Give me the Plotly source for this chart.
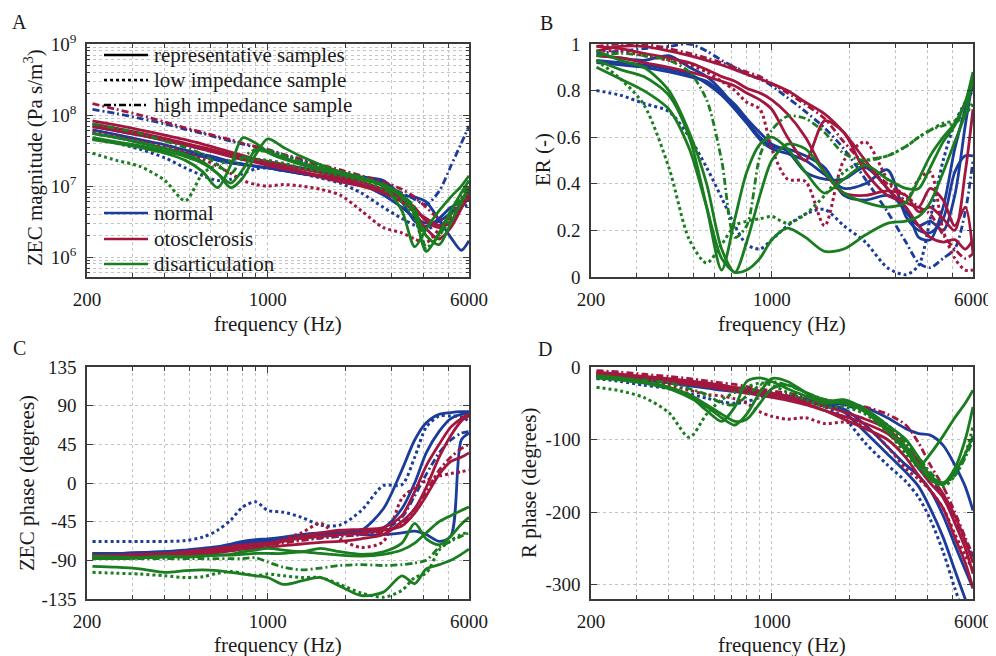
import math
import plotly.graph_objects as go

# the page adds an 8px body margin, so the figure is 8px smaller and positions are shifted
W, H = 996, 656
OFF = 8
FW, FH = W - OFF, H - OFF

# frequency points (Hz) shared by every curve
freq = [210, 260, 320, 400, 480, 560, 640, 720, 800, 900, 1000, 1150, 1350, 1600,
        1900, 2300, 2800, 3300, 3700, 4100, 4600, 5100, 5600, 6000]

# ---- A: ZEC magnitude (Pa s/m^3) ----
mag_normal_rep = [
    [5.5e7, 4.8e7, 4.1e7, 3.4e7, 2.9e7, 2.6e7, 2.3e7, 2.1e7, 2.0e7, 1.9e7, 1.8e7, 1.65e7, 1.5e7, 1.4e7, 1.25e7, 1.05e7, 7.5e6, 5.0e6, 3.6e6, 3.0e6, 3.2e6, 4.2e6, 5.5e6, 6.5e6],
    [6.2e7, 5.3e7, 4.5e7, 3.8e7, 3.2e7, 2.8e7, 2.5e7, 2.2e7, 2.05e7, 1.9e7, 1.8e7, 1.65e7, 1.5e7, 1.35e7, 1.3e7, 1.3e7, 1.1e7, 6.0e6, 3.2e6, 2.7e6, 3.5e6, 5.0e6, 6.0e6, 7.0e6],
    [7.0e7, 6.0e7, 5.2e7, 4.4e7, 3.8e7, 3.3e7, 3.0e7, 2.7e7, 2.5e7, 2.3e7, 2.2e7, 2.0e7, 1.8e7, 1.6e7, 1.45e7, 1.35e7, 1.2e7, 7.5e6, 7.0e6, 6.0e6, 3.3e6, 1.9e6, 1.25e6, 1.7e6],
]
mag_normal_low = [4.6e7, 4.0e7, 3.3e7, 2.5e7, 1.8e7, 1.4e7, 1.2e7, 1.25e7, 1.5e7, 1.75e7, 1.8e7, 1.7e7, 1.5e7, 1.3e7, 1.1e7, 8.0e6, 5.0e6, 3.5e6, 2.8e6, 2.5e6, 3.0e6, 4.0e6, 5.0e6, 5.5e6]
mag_normal_high = [1.2e8, 1.05e8, 9.0e7, 7.5e7, 6.3e7, 5.5e7, 4.8e7, 4.3e7, 3.9e7, 3.5e7, 3.2e7, 2.7e7, 2.3e7, 1.9e7, 1.6e7, 1.3e7, 1.05e7, 8.0e6, 6.5e6, 5.5e6, 8.5e6, 1.9e7, 4.0e7, 7.0e7]

mag_oto_rep = [
    [8.3e7, 7.2e7, 6.2e7, 5.2e7, 4.5e7, 3.9e7, 3.4e7, 3.0e7, 2.7e7, 2.4e7, 2.2e7, 2.0e7, 1.75e7, 1.55e7, 1.35e7, 1.15e7, 9.0e6, 7.0e6, 5.0e6, 3.2e6, 2.6e6, 3.2e6, 5.0e6, 7.0e6],
    [7.5e7, 6.5e7, 5.6e7, 4.7e7, 4.0e7, 3.5e7, 3.1e7, 2.8e7, 2.5e7, 2.25e7, 2.05e7, 1.85e7, 1.6e7, 1.4e7, 1.25e7, 1.05e7, 8.5e6, 6.3e6, 4.2e6, 2.5e6, 1.8e6, 2.6e6, 4.8e6, 8.0e6],
    [6.8e7, 6.0e7, 5.2e7, 4.4e7, 3.8e7, 3.3e7, 2.9e7, 2.6e7, 2.35e7, 2.15e7, 1.95e7, 1.75e7, 1.55e7, 1.35e7, 1.15e7, 1.0e7, 8.0e6, 6.0e6, 4.5e6, 3.5e6, 2.8e6, 3.0e6, 5.5e6, 9.0e6],
]
mag_oto_low = [5.8e7, 5.0e7, 4.3e7, 3.6e7, 3.0e7, 2.4e7, 1.9e7, 1.5e7, 1.2e7, 1.05e7, 1.0e7, 1.05e7, 1.0e7, 9.0e6, 7.5e6, 4.5e6, 2.6e6, 2.2e6, 1.8e6, 1.6e6, 2.5e6, 4.0e6, 6.5e6, 9.0e6]
mag_oto_high = [1.45e8, 1.2e8, 1.0e8, 8.0e7, 6.6e7, 5.7e7, 5.0e7, 4.5e7, 4.0e7, 3.6e7, 3.3e7, 2.8e7, 2.4e7, 2.0e7, 1.7e7, 1.4e7, 1.15e7, 9.0e6, 7.0e6, 5.0e6, 3.5e6, 3.5e6, 5.0e6, 7.0e6]

mag_dis_rep = [
    [4.5e7, 4.0e7, 3.5e7, 2.9e7, 2.3e7, 1.6e7, 9.5e6, 2.0e7, 4.8e7, 4.0e7, 3.0e7, 2.4e7, 2.0e7, 1.7e7, 1.5e7, 1.25e7, 1.0e7, 4.5e6, 1.4e6, 2.5e6, 4.5e6, 7.0e6, 1.0e7, 1.4e7],
    [4.8e7, 4.2e7, 3.7e7, 3.1e7, 2.6e7, 2.1e7, 1.5e7, 9.5e6, 1.3e7, 2.8e7, 4.6e7, 3.5e7, 2.6e7, 2.0e7, 1.6e7, 1.3e7, 1.0e7, 7.0e6, 4.0e6, 1.2e6, 2.2e6, 4.5e6, 8.0e6, 1.2e7],
    [5.5e7, 4.8e7, 4.1e7, 3.4e7, 2.8e7, 2.2e7, 1.5e7, 1.1e7, 1.7e7, 3.2e7, 3.0e7, 2.5e7, 2.1e7, 1.8e7, 1.55e7, 1.3e7, 1.05e7, 7.5e6, 4.5e6, 2.0e6, 1.5e6, 3.0e6, 6.0e6, 1.0e7],
]
mag_dis_low = [2.9e7, 2.3e7, 1.9e7, 1.2e7, 6.2e6, 1.5e7, 2.0e7, 2.3e7, 2.5e7, 2.4e7, 2.3e7, 2.1e7, 1.8e7, 1.6e7, 1.4e7, 1.2e7, 9.0e6, 6.0e6, 3.5e6, 1.3e6, 2.0e6, 3.5e6, 5.5e6, 9.0e6]
mag_dis_high = [7.5e7, 6.5e7, 5.5e7, 4.3e7, 3.5e7, 2.8e7, 2.0e7, 1.5e7, 2.5e7, 3.3e7, 3.2e7, 2.7e7, 2.2e7, 1.8e7, 1.6e7, 1.35e7, 1.05e7, 7.5e6, 5.0e6, 1.4e6, 2.0e6, 4.0e6, 7.0e6, 1.1e7]

# ---- B: ER (-) ----
er_normal_rep = [
    [0.93, 0.92, 0.91, 0.89, 0.87, 0.83, 0.78, 0.72, 0.66, 0.59, 0.55, 0.53, 0.50, 0.44, 0.38, 0.40, 0.46, 0.26, 0.20, 0.19, 0.25, 0.45, 0.52, 0.52],
    [0.95, 0.94, 0.93, 0.95, 0.90, 0.86, 0.80, 0.73, 0.67, 0.60, 0.56, 0.55, 0.52, 0.47, 0.35, 0.33, 0.35, 0.30, 0.17, 0.16, 0.30, 0.55, 0.72, 0.82],
    [0.92, 0.91, 0.90, 0.88, 0.86, 0.84, 0.79, 0.74, 0.68, 0.62, 0.57, 0.54, 0.45, 0.42, 0.42, 0.47, 0.38, 0.28, 0.22, 0.24, 0.20, 0.35, 0.65, 0.85],
]
er_normal_low = [0.80, 0.78, 0.745, 0.71, 0.60, 0.47, 0.34, 0.22, 0.14, 0.12, 0.16, 0.22, 0.27, 0.29, 0.22, 0.15, 0.04, 0.01, 0.05, 0.25, 0.50, 0.66, 0.75, 0.80]
er_normal_high = [0.96, 0.97, 0.98, 0.99, 1.0, 0.97, 0.93, 0.90, 0.87, 0.85, 0.82, 0.77, 0.71, 0.64, 0.55, 0.42, 0.28, 0.15, 0.06, 0.04, 0.08, 0.12, 0.28, 0.50]

er_oto_rep = [
    [0.97, 0.99, 0.99, 0.97, 0.95, 0.93, 0.91, 0.89, 0.87, 0.85, 0.83, 0.80, 0.75, 0.70, 0.62, 0.50, 0.38, 0.30, 0.22, 0.17, 0.15, 0.16, 0.12, 0.16],
    [0.99, 0.98, 0.96, 0.94, 0.92, 0.89, 0.86, 0.84, 0.81, 0.79, 0.76, 0.70, 0.60, 0.45, 0.36, 0.35, 0.37, 0.35, 0.28, 0.30, 0.25, 0.20, 0.45, 0.72],
    [0.95, 0.94, 0.92, 0.90, 0.88, 0.86, 0.84, 0.82, 0.79, 0.76, 0.72, 0.60, 0.50, 0.67, 0.62, 0.45, 0.35, 0.32, 0.30, 0.38, 0.33, 0.22, 0.30, 0.10],
]
er_oto_low = [0.97, 0.97, 0.95, 0.93, 0.91, 0.88, 0.84, 0.80, 0.75, 0.72, 0.55, 0.42, 0.41, 0.22, 0.50, 0.58, 0.42, 0.33, 0.42, 0.45, 0.20, 0.08, 0.03, 0.03]
er_oto_high = [0.99, 1.0, 1.0, 0.98, 0.96, 0.94, 0.92, 0.90, 0.88, 0.86, 0.83, 0.79, 0.74, 0.68, 0.58, 0.48, 0.40, 0.35, 0.30, 0.27, 0.18, 0.12, 0.08, 0.10]

er_dis_rep = [
    [0.93, 0.89, 0.86, 0.78, 0.60, 0.30, 0.03, 0.25, 0.45, 0.57, 0.60, 0.55, 0.45, 0.36, 0.42, 0.48, 0.42, 0.38, 0.38, 0.47, 0.58, 0.65, 0.75, 0.88],
    [0.97, 0.93, 0.90, 0.80, 0.62, 0.40, 0.12, 0.02, 0.15, 0.35, 0.50, 0.57, 0.55, 0.45, 0.36, 0.32, 0.30, 0.32, 0.42, 0.52, 0.60, 0.66, 0.75, 0.85],
    [0.90, 0.85, 0.80, 0.72, 0.55, 0.30, 0.08, 0.02, 0.03, 0.08, 0.16, 0.21, 0.17, 0.11, 0.12, 0.18, 0.23, 0.24, 0.26, 0.32, 0.45, 0.58, 0.70, 0.85],
]
er_dis_low = [0.93, 0.85, 0.74, 0.47, 0.16, 0.06, 0.14, 0.22, 0.24, 0.25, 0.26, 0.23, 0.27, 0.35, 0.45, 0.50, 0.52, 0.56, 0.60, 0.63, 0.66, 0.67, 0.70, 0.74]
er_dis_high = [0.95, 0.96, 0.95, 0.93, 0.88, 0.76, 0.50, 0.17, 0.22, 0.52, 0.63, 0.69, 0.68, 0.62, 0.53, 0.50, 0.52, 0.56, 0.60, 0.63, 0.65, 0.66, 0.70, 0.75]

# ---- C: ZEC phase (degrees) ----
zph_normal_rep = [
    [-82, -82, -81, -80, -79, -78, -76, -74, -72, -70, -68, -66, -64, -62, -60, -55, -30, 15, 50, 70, 80, 82, 83, 83],
    [-84, -83, -82, -81, -80, -78, -76, -73, -70, -68, -66, -64, -62, -60, -58, -56, -52, -30, 0, 35, 60, 75, 80, 80],
    [-82, -82, -81, -80, -78, -76, -74, -71, -68, -66, -65, -63, -60, -58, -58, -60, -60, -58, -56, -60, -68, -62, 50, 58],
]
zph_normal_low = [-68, -68, -68, -68, -67, -63, -55, -43, -28, -22, -32, -34, -40, -49, -49, -32, -3, -2, 30, 65, 78, 78, 77, 72]
zph_normal_high = [-84, -84, -83, -82, -81, -80, -78, -76, -74, -72, -70, -68, -66, -64, -62, -60, -55, -40, -15, 10, 35, 50, 58, 60]

zph_oto_rep = [
    [-86, -86, -85, -84, -82, -80, -78, -76, -74, -73, -72, -68, -62, -58, -55, -54, -52, -38, -10, 20, 45, 65, 75, 80],
    [-88, -88, -87, -86, -85, -83, -81, -79, -77, -76, -75, -73, -71, -69, -68, -65, -60, -45, -30, -5, 30, 55, 72, 78],
    [-84, -84, -83, -82, -80, -78, -76, -74, -72, -71, -70, -67, -64, -62, -60, -58, -55, -50, -35, -15, 10, 25, 30, 35],
]
zph_oto_low = [-88, -87, -86, -85, -84, -82, -80, -78, -75, -73, -72, -65, -58, -47, -65, -75, -68, -18, -5, 3, 8, 11, 13, 15]
zph_oto_high = [-86, -86, -85, -84, -83, -82, -80, -78, -76, -74, -72, -70, -67, -64, -62, -60, -57, -48, -30, -10, 15, 30, 40, 45]

zph_dis_rep = [
    [-97, -98, -100, -104, -102, -101, -102, -104, -106, -108, -110, -118, -114, -110, -120, -131, -127, -108, -117, -100, -95, -90, -83, -77],
    [-85, -86, -87, -85, -86, -85, -84, -83, -80, -78, -76, -78, -80, -76, -80, -83, -80, -70, -47, -65, -72, -62, -48, -40],
    [-88, -88, -87, -86, -86, -85, -84, -84, -83, -82, -82, -82, -80, -82, -84, -85, -83, -78, -70, -58, -45, -38, -32, -28],
]
zph_dis_low = [-104, -105, -106, -108, -110, -109, -105, -103, -105, -108, -106, -108, -110, -110, -118, -128, -133, -125, -110, -105, -78, -67, -60, -57]
zph_dis_high = [-88, -88, -88, -88, -88, -88, -88, -88, -88, -87, -92, -98, -101, -99, -96, -95, -96, -95, -93, -90, -75, -68, -62, -58]

# ---- D: R phase (degrees) ----
rph_normal_rep = [
    [-12, -15, -18, -22, -26, -29, -32, -34, -36, -38, -40, -43, -47, -52, -62, -90, -120, -145, -165, -195, -235, -280, -320, -350],
    [-10, -13, -16, -20, -23, -26, -29, -31, -33, -35, -37, -40, -44, -48, -52, -56, -70, -85, -92, -94, -108, -135, -165, -198],
    [-11, -14, -17, -21, -24, -27, -30, -32, -34, -36, -38, -41, -45, -50, -58, -80, -110, -135, -150, -170, -205, -245, -280, -305],
]
rph_normal_low = [-16, -20, -25, -30, -37, -43, -48, -50, -48, -42, -38, -42, -48, -55, -70, -105, -135, -158, -180, -210, -255, -305, -345, -375]
rph_normal_high = [-12, -14, -17, -20, -23, -26, -28, -30, -32, -34, -36, -39, -42, -46, -52, -62, -80, -105, -125, -150, -180, -210, -240, -262]

rph_oto_rep = [
    [-8, -11, -14, -18, -21, -24, -27, -30, -32, -35, -38, -42, -50, -60, -72, -85, -100, -125, -150, -170, -195, -235, -270, -305],
    [-10, -13, -16, -20, -24, -27, -30, -33, -36, -39, -42, -46, -52, -60, -68, -78, -92, -115, -140, -160, -180, -215, -250, -285],
    [-7, -10, -13, -16, -19, -22, -25, -28, -30, -33, -36, -40, -46, -54, -62, -72, -85, -110, -130, -150, -175, -205, -240, -270],
]
rph_oto_low = [-12, -15, -20, -25, -32, -38, -40, -44, -50, -62, -68, -72, -70, -78, -76, -82, -110, -140, -155, -170, -195, -230, -260, -280]
rph_oto_high = [-5, -7, -10, -13, -16, -19, -22, -24, -27, -30, -33, -36, -40, -45, -50, -55, -65, -80, -105, -135, -165, -200, -235, -260]

rph_dis_rep = [
    [-12, -15, -20, -28, -40, -60, -75, -55, -20, -15, -20, -30, -40, -50, -48, -60, -85, -115, -137, -120, -95, -70, -50, -32],
    [-14, -17, -22, -30, -42, -55, -70, -80, -65, -35, -16, -20, -35, -48, -45, -58, -80, -100, -125, -150, -160, -140, -100, -55],
    [-15, -18, -22, -28, -38, -52, -65, -75, -72, -50, -30, -25, -35, -45, -50, -62, -88, -110, -135, -155, -162, -145, -120, -95],
]
rph_dis_low = [-28, -33, -42, -63, -97, -65, -45, -35, -28, -22, -25, -35, -45, -55, -55, -65, -90, -120, -140, -155, -165, -150, -120, -82]
rph_dis_high = [-15, -16, -18, -22, -30, -38, -50, -52, -40, -25, -20, -25, -35, -45, -50, -60, -80, -105, -125, -145, -160, -150, -125, -100]

groups = ["normal", "otosclerosis", "disarticulation"]
colors = {"normal": "#1b3c9a", "otosclerosis": "#a3173f", "disarticulation": "#1a7d20"}
dash_low = "dot"
dash_high = "7px,3px,2px,3px"

panels = {
    "A": ("x", "y", {"normal": (mag_normal_rep, mag_normal_low, mag_normal_high),
                     "otosclerosis": (mag_oto_rep, mag_oto_low, mag_oto_high),
                     "disarticulation": (mag_dis_rep, mag_dis_low, mag_dis_high)}),
    "B": ("x2", "y2", {"normal": (er_normal_rep, er_normal_low, er_normal_high),
                       "otosclerosis": (er_oto_rep, er_oto_low, er_oto_high),
                       "disarticulation": (er_dis_rep, er_dis_low, er_dis_high)}),
    "C": ("x3", "y3", {"normal": (zph_normal_rep, zph_normal_low, zph_normal_high),
                       "otosclerosis": (zph_oto_rep, zph_oto_low, zph_oto_high),
                       "disarticulation": (zph_dis_rep, zph_dis_low, zph_dis_high)}),
    "D": ("x4", "y4", {"normal": (rph_normal_rep, rph_normal_low, rph_normal_high),
                       "otosclerosis": (rph_oto_rep, rph_oto_low, rph_oto_high),
                       "disarticulation": (rph_dis_rep, rph_dis_low, rph_dis_high)}),
}


# window pixel -> paper fraction
def px(x):
    return (x - OFF) / FW


def py(y):
    return 1 - (y - OFF) / FH


fig = go.Figure()

for key, (xa, ya, data) in panels.items():
    for g in groups:
        reps, low, high = data[g]
        c = colors[g]
        fig.add_trace(go.Scatter(x=freq, y=low, xaxis=xa, yaxis=ya, mode="lines",
                                 line=dict(color=c, width=3, dash=dash_low, shape="spline", smoothing=0.8),
                                 showlegend=False, hoverinfo="skip"))
        fig.add_trace(go.Scatter(x=freq, y=high, xaxis=xa, yaxis=ya, mode="lines",
                                 line=dict(color=c, width=2.8, dash=dash_high, shape="spline", smoothing=0.8),
                                 showlegend=False, hoverinfo="skip"))
        for r in reps:
            fig.add_trace(go.Scatter(x=freq, y=r, xaxis=xa, yaxis=ya, mode="lines",
                                     line=dict(color=c, width=2.8, shape="spline", smoothing=0.8),
                                     showlegend=False, hoverinfo="skip"))

FONT = "Liberation Serif"
AXC = "#3a3a3a"
GRIDC = "#c4c4c4"
TXT = "#1a1a1a"
tickfont = dict(family=FONT, size=19, color=TXT)

x_minor = [300, 400, 500, 600, 700, 800, 900, 2000, 3000, 4000, 5000]


def xaxis_style(dom, anchor):
    return dict(domain=dom, anchor=anchor, type="log", automargin=False,
                range=[math.log10(200), math.log10(6000)],
                tickmode="array", tickvals=[200, 1000, 6000], ticktext=["200", "1000", "6000"],
                ticks="inside", ticklen=6, tickcolor=AXC, tickwidth=1,
                showgrid=True, gridcolor=GRIDC, griddash="dot", gridwidth=1,
                minor=dict(tickmode="array", tickvals=x_minor, ticks="inside", ticklen=4,
                           tickcolor=AXC, showgrid=True, gridcolor=GRIDC, griddash="dot"),
                showline=True, linecolor=AXC, linewidth=1.5, mirror="allticks",
                zeroline=False, tickfont=tickfont, ticklabelstandoff=4)


def yaxis_style(dom, anchor, **kw):
    d = dict(domain=dom, anchor=anchor, automargin=False, ticks="inside", ticklen=6, tickcolor=AXC,
             showgrid=True, gridcolor=GRIDC, griddash="dot", gridwidth=1,
             showline=True, linecolor=AXC, linewidth=1.5, mirror="allticks",
             zeroline=False, tickfont=tickfont, ticklabelstandoff=5)
    d.update(kw)
    return d


xl = [px(87), px(469)]
xr = [px(591), px(973)]
yt = [py(277), py(44)]
yb = [py(599), py(367)]

y_minor_mag = [k * 10 ** e for e in range(5, 9) for k in range(2, 10)]

fig.update_layout(
    template="none",
    width=FW, height=FH, autosize=False,
    margin=dict(l=0, r=0, t=0, b=0, pad=0),
    paper_bgcolor="white", plot_bgcolor="white",
    font=dict(family=FONT, size=20, color=TXT),
    showlegend=False,
    xaxis=xaxis_style(xl, "y"),
    xaxis2=xaxis_style(xr, "y2"),
    xaxis3=xaxis_style(xl, "y3"),
    xaxis4=xaxis_style(xr, "y4"),
    yaxis=yaxis_style(yt, "x", type="log", range=[5.72, 9],
                      tickmode="array", tickvals=[1e6, 1e7, 1e8, 1e9],
                      ticktext=["10<sup>6</sup>", "10<sup>7</sup>", "10<sup>8</sup>", "10<sup>9</sup>"],
                      minor=dict(tickmode="array", tickvals=y_minor_mag, ticks="inside", ticklen=3,
                                 tickcolor=AXC, showgrid=True, gridcolor=GRIDC, griddash="dot")),
    yaxis2=yaxis_style(yt, "x2", range=[0, 1], tickmode="array",
                       tickvals=[0, 0.2, 0.4, 0.6, 0.8, 1], ticktext=["0", "0.2", "0.4", "0.6", "0.8", "1"]),
    yaxis3=yaxis_style(yb, "x3", range=[-135, 135], tickmode="array",
                       tickvals=[-135, -90, -45, 0, 45, 90, 135],
                       ticktext=["-135", "-90", "-45", "0", "45", "90", "135"]),
    yaxis4=yaxis_style(yb, "x4", range=[-320, 0], tickmode="array",
                       tickvals=[-300, -200, -100, 0], ticktext=["-300", "-200", "-100", "0"]),
)

annots = []


def label(text, x, y, angle=0, xanchor="center", size=21):
    annots.append(dict(text=text, x=px(x), y=py(y), xref="paper", yref="paper",
                       showarrow=False, textangle=angle, xanchor=xanchor, yanchor="middle",
                       font=dict(family=FONT, size=size, color=TXT)))


# panel letters
label("A", 19, 22, size=20)
label("B", 546, 23, size=20)
label("C", 19, 348, size=20)
label("D", 545, 349, size=20)

# axis titles
label("frequency (Hz)", 278, 324)
label("frequency (Hz)", 782, 324)
label("frequency (Hz)", 278, 645)
label("frequency (Hz)", 782, 645)
label("ZEC magnitude (Pa s/m<sup>3</sup>)", 33, 158, angle=-90)
label("ER (-)", 543, 160, angle=-90)
label("ZEC phase (degrees)", 27, 483, angle=-90)
label("R phase (degrees)", 529, 483, angle=-90)

# legend drawn by hand inside panel A
shapes = []
legend_styles = [("representative samples", "solid", 55), ("low impedance sample", "dot", 80),
                 ("high impedance sample", dash_high, 105)]
for name, dsh, yy in legend_styles:
    shapes.append(dict(type="line", xref="paper", yref="paper", x0=px(104), x1=px(148),
                       y0=py(yy), y1=py(yy), line=dict(color="black", width=2.5, dash=dsh)))
    label(name, 152, yy, xanchor="left")
for g, yy in zip(groups, [213, 239, 264]):
    shapes.append(dict(type="line", xref="paper", yref="paper", x0=px(104), x1=px(148),
                       y0=py(yy), y1=py(yy), line=dict(color=colors[g], width=2.5)))
    label(g, 152, yy, xanchor="left")

fig.update_layout(annotations=annots, shapes=shapes)

fig.write_html("out.html")
